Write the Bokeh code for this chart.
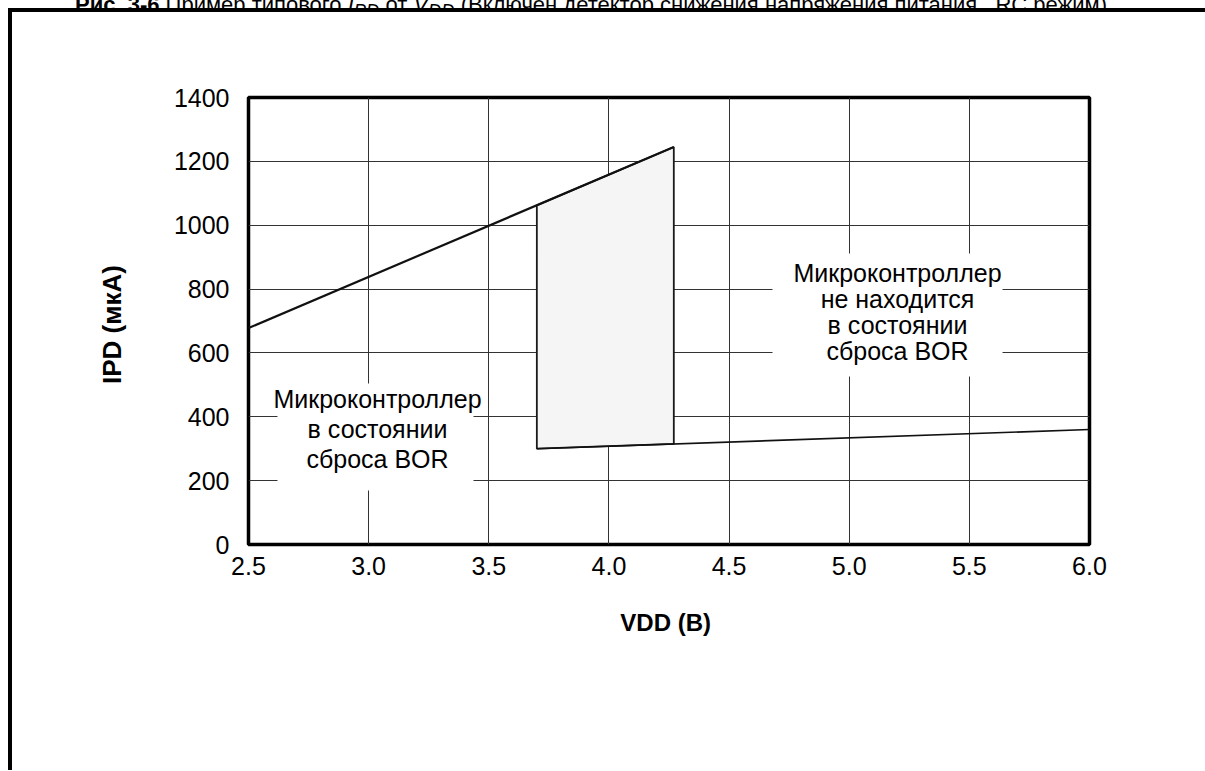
from bokeh.plotting import figure
from bokeh.models import Range1d, Div
from bokeh.layouts import column
from bokeh.core.properties import value
from bokeh.embed import file_html
from bokeh.resources import INLINE

# ---- data -------------------------------------------------------------
x_ticks = [2.5, 3.0, 3.5, 4.0, 4.5, 5.0, 5.5, 6.0]
x_tick_labels = ["2.5", "3.0", "3.5", "4.0", "4.5", "5.0", "5.5", "6.0"]
y_ticks = [0, 200, 400, 600, 800, 1000, 1200, 1400]
y_tick_labels = ["0", "200", "400", "600", "800", "1000", "1200", "1400"]

upper_v = [2.5, 4.27]          # I_PD rising line (B, мкА)
upper_i = [678, 1245]
lower_v = [3.70, 6.0]          # I_PD after BOR release
lower_i = [300, 360]
band_v = [3.70, 4.27, 4.27, 3.70]   # hysteresis band
band_i = [1062, 1245, 315, 300]

title_bold = "Рис. 3-6"
title_rest = ("Пример типового <i>I<sub>PD</sub></i> от <i>V<sub>DD</sub></i> "
              "(Включен детектор снижения напряжения питания , RC режим)")
left_note = ["Микроконтроллер", "в состоянии", "сброса BOR"]
right_note = ["Микроконтроллер", "не находится", "в состоянии", "сброса BOR"]

# ---- layout (page pixels) ---------------------------------------------
W = 1205
STRIP = 8                       # caption strip above the page frame
H = 762
FL, FR, FT, FB = 248, 1089, 97, 544
X0, X1, Y0, Y1 = 2.5, 6.0, 0, 1400


def dx(px):
    return X0 + (px - FL) * (X1 - X0) / (FR - FL)


def dy(py):
    return Y0 + (FB - py) * (Y1 - Y0) / (FB - FT)


FONT = "Liberation Sans"

# ---- caption strip (the caption is cut by the page edge, as in the scan)
cap = Div(
    text=(f'<div style="margin:-14px 0 0 75px; white-space:nowrap; '
          f'font-family:\'{FONT}\'; font-size:22px; line-height:22px; color:#000;">'
          f'<b>{title_bold}</b> {title_rest}</div>'),
    width=W, height=STRIP,
    styles={"overflow": "hidden", "margin": "0", "padding": "0"})

# ---- main chart --------------------------------------------------------
p = figure(width=W, height=H, output_backend="svg", toolbar_location=None,
           x_range=Range1d(X0, X1), y_range=Range1d(Y0, Y1),
           min_border_left=FL, min_border_right=W - FR,
           min_border_top=FT - STRIP, min_border_bottom=H + STRIP - FB,
           background_fill_color="white", border_fill_color=None)
# page frame of the scanned document (thick black left/top rules)
p.styles = {"box-shadow": ("inset 8px 0 0 0 white, inset 12px 0 0 0 black, "
                           "inset 0 4px 0 0 black")}

p.outline_line_color = "black"
p.outline_line_width = 3.5

p.xaxis.ticker = x_ticks
p.yaxis.ticker = y_ticks
p.xaxis.major_label_overrides = {t: l for t, l in zip(x_ticks, x_tick_labels)}
p.yaxis.major_label_overrides = {t: l for t, l in zip(y_ticks, y_tick_labels)}
for ax in (p.xaxis, p.yaxis):
    ax.axis_line_color = None
    ax.major_tick_line_color = None
    ax.minor_tick_line_color = None
    ax.major_label_text_font = FONT
    ax.major_label_text_font_size = "25px"
    ax.major_label_text_color = "black"
    ax.axis_label_text_font = FONT
    ax.axis_label_text_font_style = "bold"
    ax.axis_label_text_color = "black"
p.xaxis.axis_label_text_font_size = "24px"
p.yaxis.axis_label_text_font_size = "26px"
p.xaxis.major_label_standoff = 6
p.yaxis.major_label_standoff = 13
p.xaxis.axis_label = "VDD  (В)"
p.yaxis.axis_label = "IPD  (мкА)"
p.xaxis.axis_label_standoff = 31
p.yaxis.axis_label_standoff = 44

p.xgrid.ticker = x_ticks
p.ygrid.ticker = y_ticks
for g in (p.xgrid, p.ygrid):
    g.grid_line_color = "#333333"
    g.grid_line_width = 1

# white boxes behind the notes
p.quad(left=[dx(277), dx(772)], right=[dx(473), dx(1002)],
       top=[dy(383), dy(253)], bottom=[dy(490), dy(376)],
       fill_color="white", line_color=None)

# data marks
p.patch(band_v, band_i, fill_color="#f5f5f5", line_color="#1a1a1a", line_width=1.8)
p.line(upper_v, upper_i, line_color="#111111", line_width=2.2)
p.line(lower_v, lower_i, line_color="#111111", line_width=1.6)

# notes
p.text(x=[dx(377)] * 3, y=[dy(398), dy(428), dy(458)], text=left_note,
       text_font=value(FONT), text_font_size="25px", text_align="center",
       text_baseline="alphabetic", text_color="black")
p.text(x=[dx(897)] * 4, y=[dy(272), dy(298), dy(324), dy(350)], text=right_note,
       text_font=value(FONT), text_font_size="25px", text_align="center",
       text_baseline="alphabetic", text_color="black")

layout = column(cap, p, spacing=0)
open("out.html", "w").write(file_html(layout, INLINE))
